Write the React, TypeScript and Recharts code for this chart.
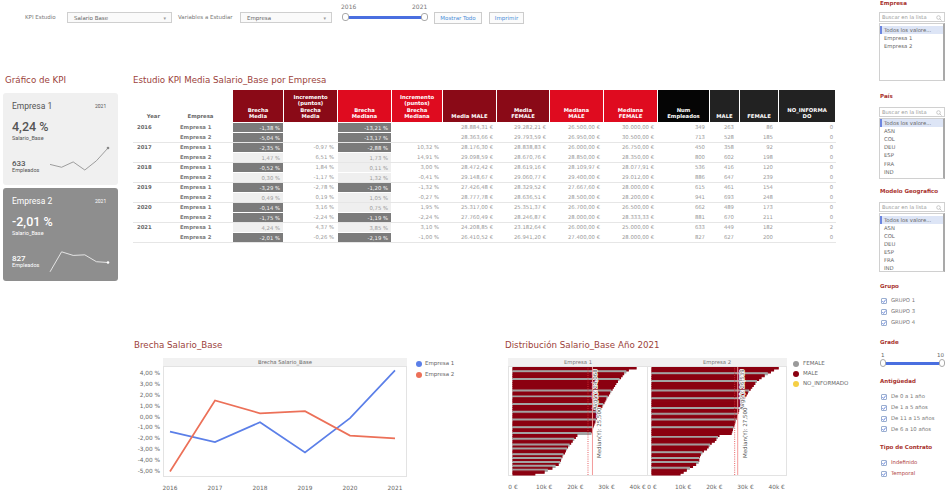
import React from 'react';
import { LineChart, Line, XAxis, YAxis, BarChart, Bar, Cell, ReferenceLine } from 'recharts';

// ---------------- DATA ----------------
const years = ['2016', '2017', '2018', '2019', '2020', '2021'];
const empresas = ['Empresa 1', 'Empresa 2'];
const brechaEmpresa1 = [-1.38, -2.35, -0.52, -3.29, -0.14, 4.24];
const brechaEmpresa2 = [-5.04, 1.47, 0.30, 0.49, -1.75, -2.01];

// table rows (year, empresa order: 2016 E1, 2016 E2, 2017 E1, ...)
const tBrechaMedia = [-1.38, -5.04, -2.35, 1.47, -0.52, 0.30, -3.29, 0.49, -0.14, -1.75, 4.24, -2.01];
const tIncMedia = [null, null, -0.97, 6.51, 1.84, -1.17, -2.78, 0.19, 3.16, -2.24, 4.37, -0.26];
const tBrechaMediana = [-13.21, -13.17, -2.88, 1.73, 0.11, 1.32, -1.20, 1.05, 0.75, -1.19, 3.85, -2.19];
const tIncMediana = [null, null, 10.32, 14.91, 3.00, -0.41, -1.32, -0.27, 1.95, -2.24, 3.10, -1.00];
const tMediaMale = [28884.31, 28363.66, 28176.30, 29098.59, 28472.42, 29148.67, 27426.48, 28777.78, 25317.00, 27760.49, 24208.85, 26410.52];
const tMediaFemale = [29282.21, 29793.59, 28838.83, 28670.76, 28619.16, 29060.77, 28329.52, 28636.51, 25351.37, 28246.87, 23182.64, 26941.20];
const tMedianaMale = [26500, 26950, 26000, 28850, 28109.97, 29400, 27667.60, 28500, 26700, 28000, 26000, 27400];
const tMedianaFemale = [30000, 30500, 26750, 28350, 28077.91, 29012, 28000, 28200, 26500, 28333.33, 25000, 28000];
const tNumEmpleados = [349, 713, 450, 800, 536, 886, 615, 941, 662, 881, 633, 827];
const tMale = [263, 528, 358, 602, 416, 647, 461, 693, 489, 670, 449, 627];
const tFemale = [86, 185, 92, 198, 120, 239, 154, 248, 173, 211, 182, 200];
const tNoInformado = [0, 0, 0, 0, 0, 0, 0, 0, 0, 0, 2, 0];

const kpiEmpleados = [633, 827];
const kpiValues = [4.24, -2.01];

// distribution 2021 (sorted salaries per employee sample)
const dist1Salaries = [39500, 37000, 36200, 35500, 35000, 34500, 34000, 33500, 33000, 32600, 32200, 31800, 31400, 31000, 30600, 30200, 29800, 29500, 29200, 28800, 28500, 28200, 27900, 27600, 27300, 27000, 26800, 26500, 26300, 26000, 25800, 25600, 25400, 25200, 25000, 20500, 20000, 19500, 19000, 18500, 18000, 17500, 17200, 16800, 16500, 16000, 15700, 15400, 15200, 15000, 14500, 13500, 12500, 11000, 10000, 7000];
const dist1Gender = ['M', 'M', 'F', 'M', 'M', 'M', 'F', 'M', 'M', 'M', 'M', 'M', 'F', 'M', 'M', 'F', 'M', 'M', 'M', 'F', 'M', 'M', 'M', 'F', 'M', 'M', 'M', 'F', 'M', 'M', 'M', 'F', 'M', 'M', 'F', 'M', 'M', 'F', 'M', 'M', 'F', 'M', 'F', 'M', 'M', 'F', 'M', 'F', 'M', 'F', 'M', 'F', 'M', 'F', 'M', 'M'];
const dist2Salaries = [40500, 39000, 38000, 37000, 36000, 35000, 34200, 33500, 33000, 32500, 32000, 31500, 31000, 30600, 30200, 29800, 29500, 29200, 28900, 28600, 28300, 28000, 27800, 27600, 27400, 27200, 27000, 26800, 26600, 26400, 26200, 26000, 25800, 25600, 25400, 21500, 21000, 20500, 20000, 19000, 18500, 18000, 17500, 16500, 16000, 15500, 15200, 15000, 15000, 14800, 14000, 13000, 12000, 11000, 10000, 9000];
const dist2Gender = ['M', 'M', 'M', 'F', 'M', 'M', 'M', 'F', 'M', 'M', 'M', 'M', 'F', 'M', 'M', 'M', 'F', 'M', 'M', 'M', 'M', 'F', 'M', 'M', 'F', 'M', 'M', 'F', 'M', 'M', 'M', 'F', 'M', 'M', 'M', 'M', 'F', 'M', 'M', 'M', 'F', 'M', 'M', 'M', 'F', 'M', 'M', 'F', 'M', 'F', 'M', 'M', 'F', 'M', 'M', 'M'];
const distAvg = [24068, 26539];
const distMedian = [25500, 27500];
const distTicks = [0, 10000, 20000, 30000, 40000];
const lineTicks = [4, 3, 2, 1, 0, -1, -2, -3, -4, -5];

const paisItems = ['Todos los valore...', 'ASN', 'COL', 'DEU', 'ESP', 'FRA', 'IND'];
const empresaItems = ['Todos los valore...', 'Empresa 1', 'Empresa 2'];
const grupoItems = ['GRUPO 1', 'GRUPO 3', 'GRUPO 4'];
const antiguedadItems = ['De 0 a 1 año', 'De 1 a 5 años', 'De 11 a 15 años', 'De 6 a 10 años'];
const contratoItems = ['Indefinido', 'Temporal'];

// ---------------- HELPERS ----------------
const font = '"DejaVu Sans", Verdana, sans-serif';
const titleColor = '#9c3f3b';
const panelRed = '#a8322d';

function fmtNum(v: number, dec: number) {
  const neg = v < 0;
  const s = Math.abs(v).toFixed(dec);
  const [i, d] = s.split('.');
  const ii = i.replace(/\B(?=(\d{3})+(?!\d))/g, '.');
  return (neg ? '-' : '') + ii + (d ? ',' + d : '');
}
const fmtPct = (v: number | null) => (v === null ? '' : fmtNum(v, 2) + ' %');
const fmtEur = (v: number) => fmtNum(v, 2) + ' €';
const fmtK = (v: number) => (v === 0 ? '0 €' : v / 1000 + 'k €');

const A: React.FC<{ x: number; y: number; w?: number; h?: number; style?: React.CSSProperties; children?: React.ReactNode }> = ({ x, y, w, h, style, children }) => (
  <div style={{ position: 'absolute', left: x, top: y, width: w, height: h, ...style }}>{children}</div>
);

const T: React.FC<{ x: number; y: number; size: number; color?: string; bold?: boolean; weight?: number; children?: React.ReactNode; ff?: string; w?: number; align?: any }> = ({ x, y, size, color = '#666', bold, weight, children, ff, w, align }) => (
  <div style={{ position: 'absolute', left: x, top: y - size * 0.7, width: w, textAlign: align, fontSize: size, lineHeight: `${size * 1.4}px`, color, fontWeight: weight || (bold ? 'bold' : 'normal'), fontFamily: ff || font, whiteSpace: 'nowrap' }}>{children}</div>
);

// ---------------- TOOLBAR ----------------
const Select: React.FC<{ x: number; w: number; text: string }> = ({ x, w, text }) => (
  <A x={x} y={12} w={w} h={11} style={{ border: '1px solid #cfcfcf', background: '#fafafa', boxSizing: 'border-box' }}>
    <div style={{ position: 'absolute', left: 6, top: 0, fontSize: 5.5, lineHeight: '10px', color: '#666', fontFamily: font }}>{text}</div>
    <div style={{ position: 'absolute', right: 5, top: 0, fontSize: 5, lineHeight: '10px', color: '#999', fontFamily: font }}>▾</div>
  </A>
);

const Toolbar = () => (
  <>
    <T x={25} y={18} size={5.5} color="#777">KPI Estudio</T>
    <Select x={67} w={105} text="Salario Base" />
    <T x={178} y={18} size={5.5} color="#777">Variables a Estudiar</T>
    <Select x={240} w={92} text="Empresa" />
    <T x={341} y={7} size={6} color="#777">2016</T>
    <T x={412} y={7} size={6} color="#777">2021</T>
    <A x={347} y={16} w={76} h={3} style={{ background: '#4a6fe0', borderRadius: 1 }} />
    <A x={342} y={13} w={7} h={8} style={{ background: '#fff', border: '1px solid #aaa', borderRadius: 3, boxSizing: 'border-box' }} />
    <A x={421} y={13} w={7} h={8} style={{ background: '#fff', border: '1px solid #aaa', borderRadius: 3, boxSizing: 'border-box' }} />
    <A x={434} y={12} w={48} h={12} style={{ border: '1px solid #ccc', boxSizing: 'border-box', background: '#fbfbfb', textAlign: 'center', fontSize: 5.5, lineHeight: '10px', color: '#4a8fd9', fontFamily: font }}>Mostrar Todo</A>
    <A x={489} y={12} w={35} h={12} style={{ border: '1px solid #ccc', boxSizing: 'border-box', background: '#fbfbfb', textAlign: 'center', fontSize: 5.5, lineHeight: '10px', color: '#4a8fd9', fontFamily: font }}>Imprimir</A>
  </>
);

// ---------------- KPI CARDS ----------------
const Spark: React.FC<{ data: number[]; color: string }> = ({ data, color }) => {
  const d = data.map((v, i) => ({ year: years[i], v }));
  return (
    <LineChart width={62} height={26} data={d} margin={{ top: 2, right: 2, bottom: 2, left: 2 }}>
      <XAxis dataKey="year" hide />
      <YAxis hide domain={['dataMin', 'dataMax']} />
      <Line
        dataKey="v"
        stroke={color}
        strokeWidth={0.8}
        isAnimationActive={false}
        dot={(p: any) => (p.index === data.length - 1 ? <circle key={p.index} cx={p.cx} cy={p.cy} r={1.3} fill={color} /> : <g key={p.index} />)}
      />
    </LineChart>
  );
};

const Card: React.FC<{ y: number; h: number; idx: number; bg: string; fg: string; sparkTop: number; sparkH: number; data: number[]; spark: string }> = ({ y, h, idx, bg, fg, sparkTop, sparkH, data, spark }) => (
  <A x={3} y={y} w={115} h={h} style={{ background: bg, borderRadius: 3 }}>
    <T x={9} y={14} size={8.5} color={fg} ff="Roboto, sans-serif">{empresas[idx]}</T>
    <T x={92} y={13} size={5} color={fg} ff="Roboto, sans-serif">{years[5]}</T>
    <T x={9} y={34} size={12.5} color={fg} weight={500} ff="Roboto, sans-serif">{fmtPct(kpiValues[idx])}</T>
    <T x={9} y={46} size={5.5} color={fg} ff="Roboto, sans-serif">Salario_Base</T>
    <T x={9} y={71} size={8} color={fg} weight={500} ff="Roboto, sans-serif">{kpiEmpleados[idx]}</T>
    <T x={9} y={78} size={5.5} color={fg} ff="Roboto, sans-serif">Empleados</T>
    <div style={{ position: 'absolute', left: 45, top: sparkTop - 2, width: 62, height: 26 }}>
      <div style={{ transform: `scaleY(${sparkH / 22})`, transformOrigin: 'top left' }}>
        <Spark data={data} color={spark} />
      </div>
    </div>
  </A>
);

// ---------------- TABLE ----------------
const colW = [35, 65, 51, 54, 54, 51, 54, 53, 54, 54, 52, 30, 39, 57];
const darkRed = '#8a0a17';
const brightRed = '#df0b1f';
const headers: { lines: string[]; bg: string | null }[] = [
  { lines: ['Year'], bg: null },
  { lines: ['Empresa'], bg: null },
  { lines: ['Brecha', 'Media'], bg: darkRed },
  { lines: ['Incremento', '(puntos)', 'Brecha', 'Media'], bg: darkRed },
  { lines: ['Brecha', 'Mediana'], bg: brightRed },
  { lines: ['Incremento', '(puntos)', 'Brecha', 'Mediana'], bg: brightRed },
  { lines: ['Media MALE'], bg: darkRed },
  { lines: ['Media', 'FEMALE'], bg: darkRed },
  { lines: ['Mediana', 'MALE'], bg: brightRed },
  { lines: ['Mediana', 'FEMALE'], bg: brightRed },
  { lines: ['Num', 'Empleados'], bg: '#050505' },
  { lines: ['MALE'], bg: '#222' },
  { lines: ['FEMALE'], bg: '#222' },
  { lines: ['NO_INFORMA', 'DO'], bg: '#222' },
];

const Table = () => {
  const rows = tBrechaMedia.map((_, i) => i);
  const cellBase: React.CSSProperties = { boxSizing: 'border-box', height: 10, fontSize: 5.3, lineHeight: '10px', color: '#999', fontFamily: font, whiteSpace: 'nowrap', overflow: 'hidden' };
  const numCell = (text: string, w: number, pr = 4) => (
    <div style={{ ...cellBase, width: w, textAlign: 'right', paddingRight: pr }}>{text}</div>
  );
  const shadeCell = (v: number, w: number) => (
    <div style={{ ...cellBase, width: w, position: 'relative' }}>
      <div style={{ position: 'absolute', left: 0, right: 1, top: 1, bottom: 0, background: v < 0 ? '#7b7b7b' : '#efefef' }} />
      <div style={{ position: 'absolute', right: 4, top: 0.5, color: v < 0 ? '#f4f4f4' : '#9a9a9a' }}>{fmtPct(v)}</div>
    </div>
  );
  return (
    <A x={133} y={90} w={703}>
      <div style={{ display: 'flex', height: 32 }}>
        {headers.map((h, i) => (
          <div key={i} style={{ width: colW[i], height: 32, boxSizing: 'border-box', background: h.bg || 'transparent', borderRight: h.bg ? '1px solid #fff' : 'none', display: 'flex', flexDirection: 'column', justifyContent: 'flex-end', alignItems: i === 0 ? 'flex-end' : 'center', paddingBottom: 2, paddingRight: i === 0 ? 8 : 0 }}>
            {h.lines.map((l, j) => (
              <div key={j} style={{ fontSize: 5.3, lineHeight: '6.6px', fontWeight: 'bold', color: h.bg ? '#fff' : '#666', fontFamily: font, whiteSpace: 'nowrap' }}>{l}</div>
            ))}
          </div>
        ))}
      </div>
      {rows.map((i) => (
        <div key={i} style={{ display: 'flex', height: 10, boxShadow: i % 2 === 0 && i > 0 ? 'inset 0 1px 0 #e6e6e6' : 'none' }}>
          <div style={{ ...cellBase, width: colW[0], paddingLeft: 4, fontWeight: 'bold', color: '#666' }}>{i % 2 === 0 ? years[i / 2] : ''}</div>
          <div style={{ ...cellBase, width: colW[1], paddingLeft: 12, fontWeight: 'bold', color: '#777' }}>{empresas[i % 2]}</div>
          {shadeCell(tBrechaMedia[i], colW[2])}
          {numCell(fmtPct(tIncMedia[i]), colW[3])}
          {shadeCell(tBrechaMediana[i], colW[4])}
          {numCell(fmtPct(tIncMediana[i]), colW[5])}
          {numCell(fmtEur(tMediaMale[i]), colW[6])}
          {numCell(fmtEur(tMediaFemale[i]), colW[7])}
          {numCell(fmtEur(tMedianaMale[i]), colW[8])}
          {numCell(fmtEur(tMedianaFemale[i]), colW[9])}
          {numCell(String(tNumEmpleados[i]), colW[10], 5)}
          {numCell(String(tMale[i]), colW[11], 6)}
          {numCell(String(tFemale[i]), colW[12], 6)}
          {numCell(String(tNoInformado[i]), colW[13], 3)}
        </div>
      ))}
      <div style={{ height: 1, background: '#e6e6e6' }} />
    </A>
  );
};

// ---------------- LINE CHART ----------------
const lineData = years.map((y, i) => ({ year: y, e1: brechaEmpresa1[i], e2: brechaEmpresa2[i] }));
const tickStyle = { fontSize: 5.8, fill: '#666', fontFamily: font };

const YTick = (p: any) => (
  <text x={p.x} y={p.y} dy={2} textAnchor="end" fontSize={5.8} fill="#666" fontFamily={font}>
    {fmtPct(p.payload.value)}
  </text>
);

const BrechaChart = () => (
  <>
    <T x={134} y={345} size={8.7} color={titleColor}>Brecha Salario_Base</T>
    <A x={163} y={358} w={244} h={119} style={{ border: '1px solid #e3e3e3', boxSizing: 'border-box' }} />
    <A x={163} y={358} w={244} h={9} style={{ background: '#f1f1f1', borderBottom: '1px solid #e3e3e3', boxSizing: 'border-box', textAlign: 'center', fontSize: 5.3, lineHeight: '8px', color: '#666', fontFamily: font }}>Brecha Salario_Base</A>
    <A x={130} y={355}>
      <LineChart width={300} height={135} data={lineData} margin={{ top: 12, right: 23, bottom: 0, left: 0 }}>
        <XAxis dataKey="year" tickLine={false} axisLine={false} height={13} tick={tickStyle} padding={{ left: 7, right: 12 }} tickMargin={3} interval={0} />
        <YAxis width={33} domain={[-5.55, 4.55]} ticks={lineTicks} tickLine={false} axisLine={false} tick={<YTick />} tickSize={0} tickMargin={3} interval={0} />
        <Line dataKey="e1" stroke="#5b7fe8" strokeWidth={1.7} dot={false} isAnimationActive={false} />
        <Line dataKey="e2" stroke="#ec7058" strokeWidth={1.7} dot={false} isAnimationActive={false} />
      </LineChart>
    </A>
    <A x={416} y={361} w={6} h={6} style={{ borderRadius: 3, background: '#5b7fe8' }} />
    <T x={425} y={364} size={5.5} color="#666">{empresas[0]}</T>
    <A x={416} y={372} w={6} h={6} style={{ borderRadius: 3, background: '#ec7058' }} />
    <T x={425} y={375} size={5.5} color="#666">{empresas[1]}</T>
  </>
);

// ---------------- DISTRIBUTION ----------------
const maleColor = '#8b0010';
const femaleColor = '#a3a3a3';

const refLabel = (text: string, bottom: number) => (props: any) => {
  const vb = props.viewBox || {};
  const x = (vb.x || 0) + 9;
  const y = (vb.y || 0) + bottom;
  return (
    <text x={x} y={y} transform={`rotate(-90 ${x} ${y})`} fontSize={5.5} fill="#555" stroke="#fff" strokeWidth={1.5} paintOrder="stroke" fontFamily={font}>
      {text}
    </text>
  );
};

const DistPanel: React.FC<{ x: number; idx: number; salaries: number[]; genders: string[] }> = ({ x, idx, salaries, genders }) => {
  const data = salaries.map((v, i) => ({ id: i, v, g: genders[i] }));
  return (
    <>
      <A x={x} y={358} w={140} h={118} style={{ border: '1px solid #e3e3e3', boxSizing: 'border-box' }} />
      <A x={x} y={358} w={140} h={9} style={{ background: '#f1f1f1', borderBottom: '1px solid #e3e3e3', boxSizing: 'border-box', textAlign: 'center', fontSize: 5.3, lineHeight: '8px', color: '#777', fontFamily: font }}>{empresas[idx]}</A>
      <A x={x} y={367}>
        <BarChart layout="vertical" width={139} height={122} data={data} margin={{ top: 0, right: 0, bottom: 0, left: 0 }} barCategoryGap={0} barGap={0}>
          <XAxis type="number" domain={[-1600, 43000]} ticks={distTicks} tickFormatter={fmtK} height={14} tickLine={false} axisLine={false} tick={tickStyle} tickMargin={4} interval={0} />
          <YAxis type="category" dataKey="id" hide />
          <Bar dataKey="v" isAnimationActive={false}>
            {data.map((d, i) => (
              <Cell key={i} fill={d.g === 'M' ? maleColor : femaleColor} stroke={d.g === 'M' ? maleColor : femaleColor} strokeWidth={1.1} />
            ))}
          </Bar>
          <ReferenceLine x={distAvg[idx]} stroke="#e0393e" strokeWidth={0.8} strokeDasharray="1 1.2" label={refLabel('Avg(Y): ' + fmtNum(distAvg[idx] / 1000, 3), 43)} />
          <ReferenceLine x={distMedian[idx]} stroke="#f39a9a" strokeWidth={1} label={refLabel('Median(Y): ' + fmtNum(distMedian[idx] / 1000, 3), 91)} />
        </BarChart>
      </A>
    </>
  );
};

const DistChart = () => (
  <>
    <T x={505} y={345} size={8.7} color={titleColor}>Distribución Salario_Base Año 2021</T>
    <DistPanel x={508} idx={0} salaries={dist1Salaries} genders={dist1Gender} />
    <DistPanel x={647} idx={1} salaries={dist2Salaries} genders={dist2Gender} />
    <A x={793} y={361} w={6} h={6} style={{ borderRadius: 3, background: '#9a9a9a' }} />
    <T x={803} y={364} size={5.5} color="#666">FEMALE</T>
    <A x={793} y={371} w={6} h={6} style={{ borderRadius: 3, background: '#8b0010' }} />
    <T x={803} y={374} size={5.5} color="#666">MALE</T>
    <A x={793} y={381} w={6} h={6} style={{ borderRadius: 3, background: '#f5cf45' }} />
    <T x={803} y={384} size={5.5} color="#666">NO_INFORMADO</T>
  </>
);

// ---------------- RIGHT PANEL ----------------
const PTitle: React.FC<{ y: number; text: string }> = ({ y, text }) => (
  <T x={880} y={y} size={5.5} color={panelRed} bold>{text}</T>
);

const Search: React.FC<{ y: number }> = ({ y }) => (
  <A x={879} y={y} w={66} h={10} style={{ border: '1px solid #d0d0d0', boxSizing: 'border-box', background: '#fff' }}>
    <div style={{ position: 'absolute', left: 2, top: 0, fontSize: 5.2, lineHeight: '8px', color: '#999', fontFamily: font, whiteSpace: 'nowrap' }}>Buscar en la lista</div>
    <svg width={6} height={6} style={{ position: 'absolute', right: 2, top: 1.5 }}>
      <circle cx={2.5} cy={2.5} r={1.8} stroke="#aaa" strokeWidth={0.6} fill="none" />
      <line x1={3.8} y1={3.8} x2={5.5} y2={5.5} stroke="#aaa" strokeWidth={0.7} />
    </svg>
  </A>
);

const List: React.FC<{ y: number; h: number; items: string[]; first?: number }> = ({ y, h, items, first = 0 }) => (
  <A x={879} y={y} w={66} h={h} style={{ border: '1px solid #d0d0d0', borderRight: '2px solid #a9a9a9', boxSizing: 'border-box', background: '#fff', overflow: 'hidden' }}>
    {items.map((it, i) => (
      <div key={i} style={{ position: 'absolute', left: 0, right: 0, top: first + i * 8.1, height: 8.1, background: i === 0 ? '#dde5f6' : 'transparent', borderLeft: i === 0 ? '2px solid #6d86e0' : '2px solid transparent', fontSize: 5.3, lineHeight: '8.1px', color: '#666', fontFamily: font, paddingLeft: 2, whiteSpace: 'nowrap' }}>{it}</div>
    ))}
  </A>
);

const Check: React.FC<{ y: number; text: string; color?: string }> = ({ y, text, color = '#777' }) => (
  <>
    <A x={881} y={y - 3} w={6} h={6} style={{ border: '1px solid #9aaed0', boxSizing: 'border-box', background: '#fff', borderRadius: 1 }}>
      <svg width={6} height={6} style={{ position: 'absolute', left: -1, top: -1 }}>
        <path d="M1.3 3.1 L2.6 4.4 L4.8 1.5" stroke="#4f72d6" strokeWidth={0.8} fill="none" />
      </svg>
    </A>
    <T x={891} y={y} size={5.3} color={color}>{text}</T>
  </>
);

const RightPanel = () => (
  <>
    <PTitle y={4} text="Empresa" />
    <Search y={12} />
    <List y={23} h={58} items={empresaItems} first={2} />
    <PTitle y={97} text="País" />
    <Search y={107} />
    <List y={118} h={61} items={paisItems} first={0} />
    <PTitle y={192} text="Modelo Geografico" />
    <Search y={202} />
    <List y={213} h={59} items={paisItems} first={1.5} />
    <PTitle y={287} text="Grupo" />
    {grupoItems.map((g, i) => <Check key={g} y={301 + i * 11} text={g} />)}
    <PTitle y={343} text="Grade" />
    <T x={881} y={356} size={5.5} color="#666">1</T>
    <T x={937} y={356} size={5.5} color="#666">10</T>
    <A x={884} y={362} w={56} h={3} style={{ background: '#4a6fe0', borderRadius: 1 }} />
    <A x={880} y={359} w={6} h={8} style={{ background: '#fff', border: '1px solid #aaa', borderRadius: 3, boxSizing: 'border-box' }} />
    <A x={939} y={359} w={6} h={8} style={{ background: '#fff', border: '1px solid #aaa', borderRadius: 3, boxSizing: 'border-box' }} />
    <PTitle y={382} text="Antigüedad" />
    {antiguedadItems.map((g, i) => <Check key={g} y={397 + i * 10.8} text={g} />)}
    <PTitle y={448} text="Tipo de Contrato" />
    {contratoItems.map((g, i) => <Check key={g} y={463 + i * 10.5} text={g} color="#b0413e" />)}
  </>
);

// ---------------- APP ----------------
export default function App() {
  return (
    <div style={{ position: 'absolute', left: 0, top: 0, width: 946, height: 491, background: '#fff', overflow: 'hidden', fontFamily: font }}>
      <Toolbar />
      <T x={5} y={80} size={8.7} color={titleColor}>Gráfico de KPI</T>
      <Card y={93} h={92} idx={0} bg="#f0f0f0" fg="#555" sparkTop={55} sparkH={22} data={brechaEmpresa1} spark="#888" />
      <Card y={188} h={93} idx={1} bg="#8e8e8e" fg="#fff" sparkTop={64} sparkH={20} data={brechaEmpresa2} spark="#fff" />
      <T x={133} y={80} size={8.7} color={titleColor}>Estudio KPI Media Salario_Base por Empresa</T>
      <Table />
      <BrechaChart />
      <DistChart />
      <RightPanel />
    </div>
  );
}
